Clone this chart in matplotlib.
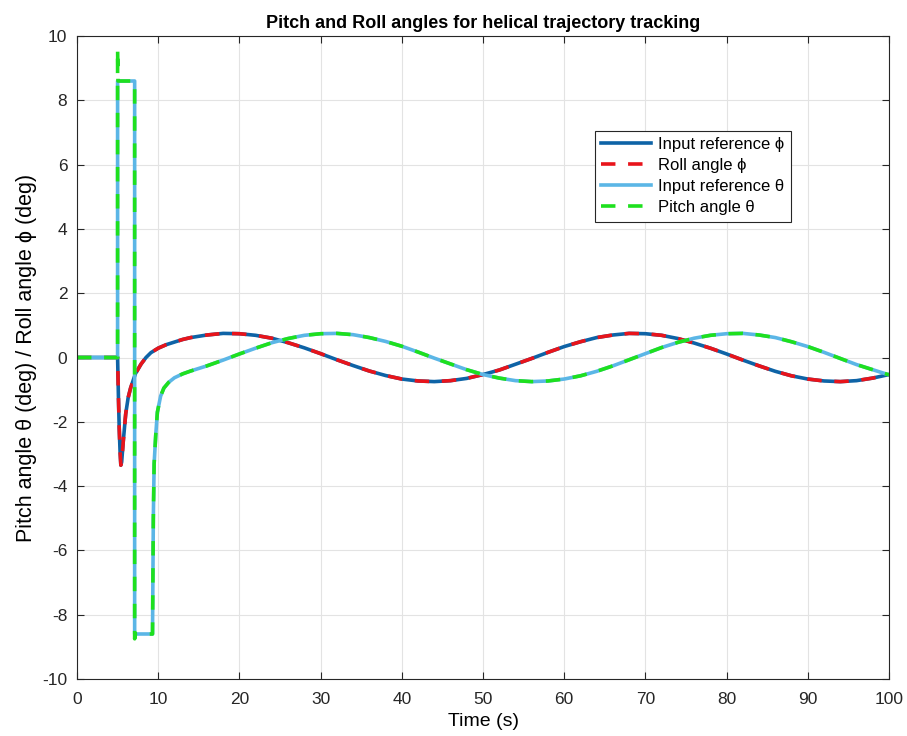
import matplotlib
matplotlib.use("Agg")
import matplotlib.pyplot as plt

plt.rcParams['font.family'] = ['Liberation Sans', 'DejaVu Sans']
plt.rcParams['axes.unicode_minus'] = False

#Values (time in s, angles in deg).
t_phi_start = [0, 5.0, 5.1, 5.2, 5.3, 5.4, 5.5, 5.7, 6.0, 6.3, 6.6, 7.2, 7.9, 8.5, 9.1, 10, 11, 12, 13, 14]
phi_start = [0, 0, -1.2, -2.2, -2.9, -3.35, -3.25, -2.6, -1.75, -1.25, -0.95, -0.5, -0.2, 0.0, 0.15, 0.29, 0.40, 0.48, 0.56, 0.62]

t_theta_start = [0, 5.0, 5.0, 7.1, 7.1, 9.3, 9.4, 9.5, 9.7, 9.9, 10.3, 10.7, 11.3, 12, 13, 14]
theta_start = [0, 0, 8.6, 8.6, -8.6, -8.6, -5.0, -3.3, -2.4, -1.7, -1.2, -0.95, -0.77, -0.63, -0.51, -0.42]

#Pitch angle has a small overshoot on the steps.
t_pitch_start = [0, 5.0, 5.0, 5.05, 7.1, 7.1, 7.2, 9.3, 9.4, 9.5, 9.7, 9.9, 10.3, 10.7, 11.3, 12, 13, 14]
pitch_start = [0, 0, 9.6, 8.6, 8.6, -8.75, -8.6, -8.6, -5.0, -3.3, -2.4, -1.7, -1.2, -0.95, -0.77, -0.63, -0.51, -0.42]

t_tail = [16, 18, 20, 22, 24, 26, 28, 30, 32, 34, 36, 38, 40, 42, 44, 46, 48, 50, 52, 54,
          56, 58, 60, 62, 64, 66, 68, 70, 72, 74, 76, 78, 80, 82, 84, 86, 88, 90, 92, 94,
          96, 98, 100]
phi_tail = [0.70, 0.75, 0.74, 0.69, 0.60, 0.46, 0.30, 0.12, -0.07, -0.25, -0.42, -0.56, -0.67, -0.73, -0.75,
            -0.72, -0.65, -0.53, -0.39, -0.21, -0.03, 0.16, 0.34, 0.49, 0.62, 0.70, 0.75, 0.74, 0.69, 0.59,
            0.45, 0.29, 0.11, -0.08, -0.26, -0.43, -0.57, -0.67, -0.73, -0.75, -0.72, -0.64, -0.53]
theta_tail = [-0.26, -0.08, 0.11, 0.29, 0.46, 0.59, 0.69, 0.74, 0.75, 0.71, 0.62, 0.50, 0.35, 0.17, -0.02,
              -0.20, -0.38, -0.53, -0.64, -0.72, -0.75, -0.73, -0.67, -0.57, -0.43, -0.26, -0.07, 0.12, 0.31, 0.47,
              0.60, 0.69, 0.74, 0.75, 0.70, 0.62, 0.49, 0.34, 0.16, -0.03, -0.22, -0.38, -0.54]

x_ticks = [0, 10, 20, 30, 40, 50, 60, 70, 80, 90, 100]
y_ticks = [-10, -8, -6, -4, -2, 0, 2, 4, 6, 8, 10]

t_phi = t_phi_start + t_tail
phi_ref = phi_start + phi_tail
roll_angle = phi_start + phi_tail
t_theta = t_theta_start + t_tail
theta_ref = theta_start + theta_tail
t_pitch = t_pitch_start + t_tail
pitch_angle = pitch_start + theta_tail

fig = plt.figure(figsize=(9.07, 7.36), dpi=100)
ax = fig.add_axes([77/907, 1-679/736, (889-77)/907, (679-36)/736])

ax.plot(t_phi, phi_ref, color='#0E63A6', lw=2.6, label='Input reference \u03d5')
ax.plot(t_phi, roll_angle, color='#E8141B', lw=2.6, dashes=(4, 3.5), label='Roll angle \u03d5')
ax.plot(t_theta, theta_ref, color='#5BB6E6', lw=2.6, label='Input reference \u03b8')
ax.plot(t_pitch, pitch_angle, color='#1EE01E', lw=2.6, dashes=(4, 3.5), label='Pitch angle \u03b8')

ax.set_xlim(0, 100)
ax.set_ylim(-10, 10)
ax.set_xticks(x_ticks)
ax.set_yticks(y_ticks)
ax.tick_params(direction='in', top=True, right=True, length=5, labelsize=12.5, colors='#262626')
ax.tick_params(axis='x', pad=9)
ax.tick_params(axis='y', pad=7)
ax.grid(True, color='#E3E3E3', lw=0.8)
ax.set_axisbelow(True)
for s in ax.spines.values():
    s.set_color('#262626')
    s.set_linewidth(0.8)

ax.set_xlabel('Time (s)', fontsize=14, labelpad=5)
ax.set_ylabel('Pitch angle \u03b8 (deg) / Roll angle \u03d5 (deg)', fontsize=15.5, labelpad=4)
ax.set_title('Pitch and Roll angles for helical trajectory tracking', fontsize=13, fontweight='bold', pad=6)

leg = ax.legend(loc='upper right', bbox_to_anchor=(0.879, 0.853), fontsize=12, fancybox=False,
                edgecolor='#262626', framealpha=1, borderaxespad=0, handlelength=3.0,
                handletextpad=0.4, labelspacing=0.36, borderpad=0.4)
leg.get_frame().set_linewidth(0.8)

fig.savefig('out.png', dpi=100)
